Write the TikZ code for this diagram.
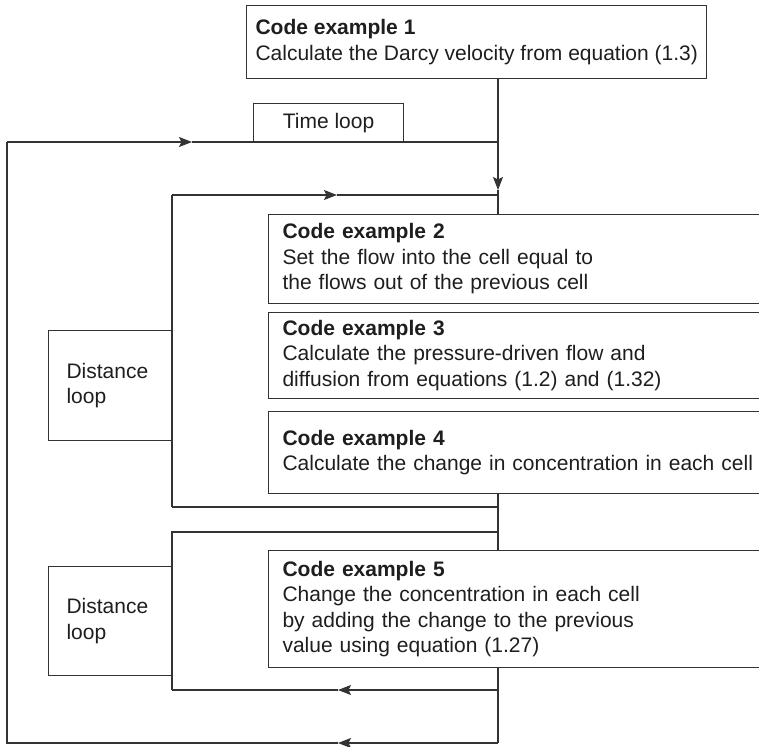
\documentclass[tikz,border=0pt]{standalone}
\usepackage{fontspec}
\setmainfont{Liberation Sans}
\usetikzlibrary{arrows.meta}
\definecolor{lncol}{HTML}{333333}
\definecolor{txcol}{HTML}{1E1E1E}
\tikzset{
  ln/.style={line width=1.1pt, draw=lncol},
  arr/.style={-{Stealth[length=13pt,width=10pt,inset=2.5pt]}},
  box/.style={ln, rectangle, anchor=north west, align=left, inner ysep=0pt,
    font=\fontsize{21}{25.5}\selectfont, text=txcol},
  codebox/.style={box, inner xsep=14pt, minimum width=512pt, text width=484pt},
  loopbox/.style={box, inner xsep=18pt, minimum width=124pt, text width=88pt},
}
\begin{document}
\begin{tikzpicture}[x=1pt,y=-1pt]
\useasboundingbox (0,0) rectangle (759,746);
% boxes
\node[box, inner xsep=9pt, minimum height=73pt] (b1) at (246,5)
  {\textbf{Code example 1}\\Calculate the Darcy velocity from equation (1.3)};
\node[box, align=center, inner xsep=0pt, minimum width=150pt, minimum height=39pt] (tl) at (253,103) {Time loop};
\node[codebox, minimum height=89pt] (b2) at (268,214)
  {\textbf{Code example 2}\\Set the flow into the cell equal to\\the flows out of the previous cell};
\node[codebox, minimum height=86pt] (b3) at (268,312)
  {\textbf{Code example 3}\\Calculate the pressure-driven flow and\\diffusion from equations (1.2) and (1.32)};
\node[codebox, minimum height=82pt] (b4) at (268,411)
  {\textbf{Code example 4}\\Calculate the change in concentration in each cell};
\node[codebox, minimum height=117pt] (b5) at (268,550)
  {\textbf{Code example 5}\\Change the concentration in each cell\\by adding the change to the previous\\value using equation (1.27)};
\node[loopbox, minimum height=110pt] (d1) at (48,330) {Distance\\loop};
\node[loopbox, minimum height=109pt] (d2) at (48,566) {Distance\\loop};
% coordinates
\coordinate (m) at (498,0);
\coordinate (o1) at (7,142);
\coordinate (o2) at (498,142);
\coordinate (o3) at (7,743);
\coordinate (o4) at (498,743);
\coordinate (i1) at (172,195);
\coordinate (i2) at (498,195);
\coordinate (i3) at (172,507);
\coordinate (i4) at (498,507);
\coordinate (k1) at (172,532);
\coordinate (k2) at (498,532);
\coordinate (k3) at (172,690);
\coordinate (k4) at (498,690);
\coordinate (ah1) at (498,190);
\coordinate (ah2) at (192,142);
\coordinate (ah3) at (337,195);
\coordinate (ah4) at (338,690);
\coordinate (ah5) at (338,743);
% main line
\draw[ln, arr] (b1.south -| m) -- (ah1);
\draw[ln] (ah1) -- (b2.north -| m);
% time loop
\draw[ln, arr] (o1) -- (ah2);
\draw[ln] (ah2) -- (o2);
\draw[ln] (b5.south -| m) -- (o4);
\draw[ln, arr] (o4) -- (ah5);
\draw[ln] (ah5) -- (o3) -- (o1);
% distance loop 1
\draw[ln] (i3) -- (i1);
\draw[ln, arr] (i1) -- (ah3);
\draw[ln] (ah3) -- (i2);
\draw[ln] (i3) -- (i4);
\draw[ln] (b4.south -| m) -- (b5.north -| m);
% distance loop 2
\draw[ln] (k2) -- (k1) -- (k3);
\draw[ln, arr] (k4) -- (ah4);
\draw[ln] (ah4) -- (k3);
\end{tikzpicture}
\end{document}
